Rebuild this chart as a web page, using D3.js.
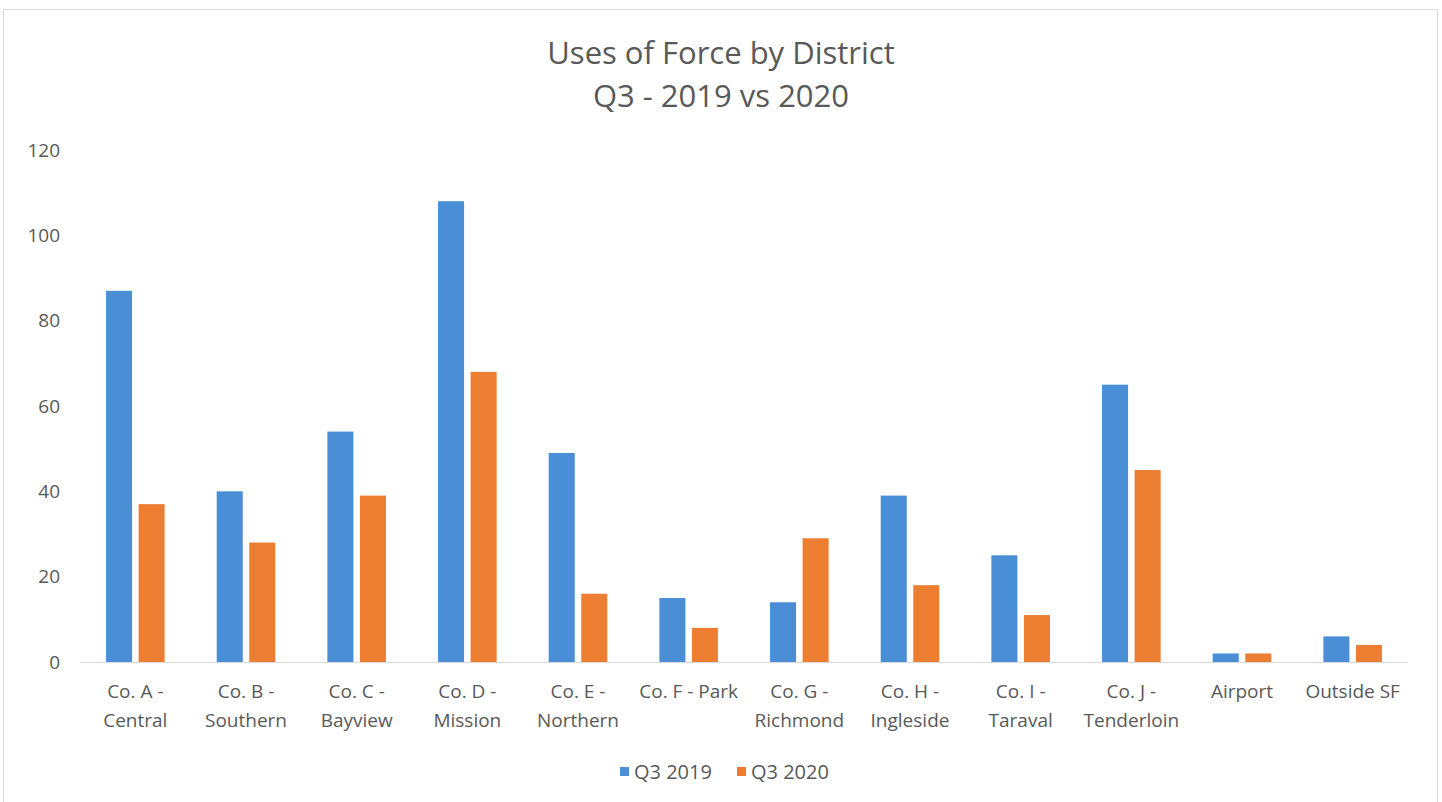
<!DOCTYPE html>
<html>
<head>
<meta charset="utf-8">
<script src="https://cdn.jsdelivr.net/npm/d3@7"></script>
<style>
  body { margin: 0; background: #fff; }
  text { font-family: "Open Sans", "Noto Sans", sans-serif; fill: #595959; }
</style>
</head>
<body>
<div id="chart"></div>
<script>
/* Data */
var districts = [
  ["Co. A -", "Central"], ["Co. B -", "Southern"], ["Co. C -", "Bayview"],
  ["Co. D -", "Mission"], ["Co. E -", "Northern"], ["Co. F - Park"],
  ["Co. G -", "Richmond"], ["Co. H -", "Ingleside"], ["Co. I -", "Taraval"],
  ["Co. J -", "Tenderloin"], ["Airport"], ["Outside SF"]
];
var q3_2019 = [87, 40, 54, 108, 49, 15, 14, 39, 25, 65, 2, 6];
var q3_2020 = [37, 28, 39, 68, 16, 8, 29, 18, 11, 45, 2, 4];
var seriesNames = ["Q3 2019", "Q3 2020"];
var seriesColors = ["#4a8fd6", "#ed7d31"];
var yTicks = [0, 20, 40, 60, 80, 100, 120];

var width = 1442,
    height = 802,
    margin = {top: 150, right: 34, bottom: 140, left: 80};

var svg = d3.select("#chart").append("svg")
    .attr("width", width).attr("height", height);

// chart frame
svg.append("rect")
    .attr("x", 3.5).attr("y", 9.5)
    .attr("width", 1434).attr("height", 800)
    .attr("fill", "none").attr("stroke", "#d9d9d9");

var x = d3.scaleBand()
    .domain(d3.range(districts.length))
    .range([margin.left, width - margin.right]);

var x1 = d3.scaleBand()
    .domain([0, 1])
    .range([0, x.bandwidth()])
    .paddingInner(0.2)
    .paddingOuter(0.8);

var y = d3.scaleLinear()
    .domain([0, 120])
    .range([height - margin.bottom, margin.top]);

/* Title */
var title = svg.append("text")
    .attr("text-anchor", "middle")
    .attr("x", width / 2)
    .style("font-size", "31px");
title.append("tspan").attr("x", width / 2).attr("y", 64).text("Uses of Force by District");
title.append("tspan").attr("x", width / 2).attr("y", 107).text("Q3 - 2019 vs 2020");

/* Y axis */
var yAxis = d3.axisLeft(y).tickValues(yTicks).tickSize(0).tickPadding(0);
var yg = svg.append("g")
    .attr("transform", "translate(" + 60 + ",0)")
    .call(yAxis);
yg.select(".domain").remove();
yg.selectAll("text").style("font-size", "19px").attr("fill", "#595959");

/* Bars */
var groups = svg.append("g").selectAll("g")
    .data(districts)
    .join("g")
    .attr("transform", function(d, i) { return "translate(" + x(i) + ",0)"; });

groups.selectAll("rect")
    .data(function(d, i) { return [q3_2019[i], q3_2020[i]]; })
    .join("rect")
    .attr("x", function(d, j) { return x1(j); })
    .attr("width", x1.bandwidth())
    .attr("y", function(d) { return y(d); })
    .attr("height", function(d) { return y(0) - y(d); })
    .attr("fill", function(d, j) { return seriesColors[j]; });

/* X axis */
svg.append("line")
    .attr("x1", margin.left).attr("x2", width - margin.right)
    .attr("y1", y(0) + 0.5).attr("y2", y(0) + 0.5)
    .attr("stroke", "#d9d9d9");

var labels = svg.append("g").selectAll("text")
    .data(districts)
    .join("text")
    .attr("text-anchor", "middle")
    .style("font-size", "19px")
    .attr("x", function(d, i) { return x(i) + x.bandwidth() / 2; });
labels.selectAll("tspan")
    .data(function(d) { return d; })
    .join("tspan")
    .attr("x", function() { return d3.select(this.parentNode).attr("x"); })
    .attr("y", function(d, k) { return y(0) + 36 + k * 29; })
    .text(function(d) { return d; });

/* Legend */
var legend = svg.append("g").attr("transform", "translate(620,772)");
var item = legend.selectAll("g")
    .data(seriesNames)
    .join("g")
    .attr("transform", function(d, i) { return "translate(" + (i * 117) + ",0)"; });
item.append("rect")
    .attr("x", 0).attr("y", -5).attr("width", 9).attr("height", 9)
    .attr("fill", function(d, i) { return seriesColors[i]; });
item.append("text")
    .attr("x", 14).attr("y", 7)
    .style("font-size", "20px")
    .text(function(d) { return d; });
</script>
</body>
</html>
